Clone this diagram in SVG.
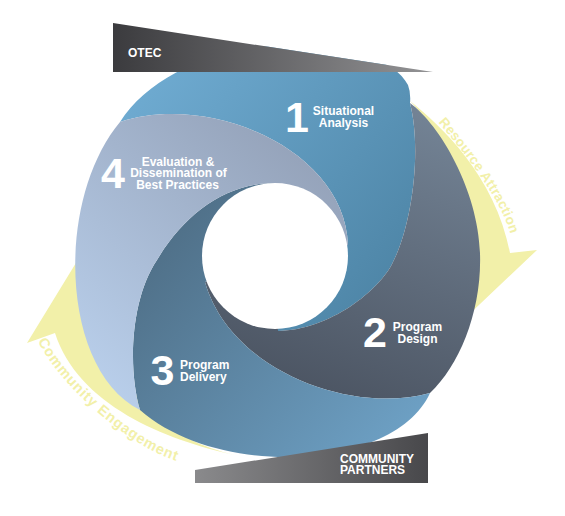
<svg xmlns="http://www.w3.org/2000/svg" width="565" height="516" viewBox="0 0 565 516">
<defs>
<linearGradient id="g1" gradientUnits="userSpaceOnUse" x1="150" y1="80" x2="420" y2="300"><stop offset="0" stop-color="#6eaad0"/><stop offset="1" stop-color="#4b82a3"/></linearGradient>
<linearGradient id="g2" gradientUnits="userSpaceOnUse" x1="440" y1="110" x2="330" y2="400"><stop offset="0" stop-color="#748496"/><stop offset="1" stop-color="#4c5563"/></linearGradient>
<linearGradient id="g3" gradientUnits="userSpaceOnUse" x1="160" y1="230" x2="400" y2="440"><stop offset="0" stop-color="#4f6f87"/><stop offset="1" stop-color="#6da0c4"/></linearGradient>
<linearGradient id="g4" gradientUnits="userSpaceOnUse" x1="300" y1="150" x2="90" y2="380"><stop offset="0" stop-color="#95a3ba"/><stop offset="1" stop-color="#b9cfeb"/></linearGradient>
<linearGradient id="gt" x1="0" y1="0" x2="1" y2="0"><stop offset="0" stop-color="#3b3b3e"/><stop offset="1" stop-color="#939395"/></linearGradient>
<linearGradient id="gb" x1="0" y1="0" x2="1" y2="0"><stop offset="0" stop-color="#8a8a8c"/><stop offset="1" stop-color="#48484b"/></linearGradient>
<clipPath id="clipTop"><polygon points="0,5.7 565,92.2 565,516 0,516"/></clipPath>
<path id="tpR" d="M438,122 Q514.5,210.5 513,253"/>
<path id="tpL" d="M38,341 C61,389 146,463 200,466"/>
</defs>
<style>
.num{font-family:"Liberation Sans",Arial,sans-serif;font-weight:bold;font-size:43px;fill:#fff;text-anchor:middle}
.lbl{font-family:"Liberation Sans",Arial,sans-serif;font-weight:bold;font-size:12px;fill:#fff;text-anchor:middle}
.lbl.st{text-anchor:start}
.ban{font-family:"Liberation Sans",Arial,sans-serif;font-weight:bold;font-size:12px;fill:#fff}
.arr{fill:#f2f0a9}
.atx{font-family:"Liberation Sans",Arial,sans-serif;font-weight:bold;font-size:13.5px;fill:#f2f0a9;letter-spacing:0.3px}
.atx.big{font-size:14.5px;letter-spacing:0.8px}
</style>

<g id="connectors">
  <path id="arrow-resource" class="arr" d="M410,101 C440,125 495,175 510,253 L537,250 L440,342 L455,250 C452,190 440,130 410,101 Z"/>
  <path id="arrow-community" class="arr" d="M235,455 C165,440 78,405 55,333 L27,343 L90,240 L112,330 C120,400 170,440 235,455 Z"/>
</g>

<g id="seg1" clip-path="url(#clipTop)">
  <path fill="url(#g1)" d="M120,122 C150,75 220,45 290,45 C350,45 395,60 408,85 Q411,93 410,103 C422,150 412,225 393,262 C380,290 330,330 278,331 L275,256 L348,245 C345,150 210,92 120,122 Z"/>
</g>
<g id="seg2">
  <path fill="url(#g2)" d="M410,103 C440,125 478,190 480,253 C482,310 460,365 430,393 C350,415 230,370 205,282 L275,256 L278,331 C330,330 380,290 393,262 C412,225 422,150 410,103 Z"/>
</g>
<g id="seg3">
  <path fill="url(#g3)" d="M430,393 C395,470 220,480 140,410 C128,370 130,300 157,260 C184,215 225,183 275,183 L275,256 L205,282 C230,370 350,415 430,393 Z"/>
</g>
<g id="seg4">
  <path fill="url(#g4)" d="M140,410 C60,370 55,200 120,122 C210,92 345,150 348,245 L275,256 L275,183 C225,183 184,215 157,260 C130,300 128,370 140,410 Z"/>
</g>
<circle id="hole" cx="275" cy="256" r="73" fill="#fff"/>

<g id="otec">
  <polygon points="113,23 113,72 433,72" fill="url(#gt)"/>
  <text class="ban" x="128" y="57" font-size="12.5">OTEC</text>
</g>
<g id="partners">
  <polygon points="195,470 428,433 428,483 195,483" fill="url(#gb)"/>
  <text class="ban" x="340" y="462.5">COMMUNITY</text>
  <text class="ban" x="340" y="474">PARTNERS</text>
</g>

<g id="node1">
  <text class="num" x="297" y="132" font-size="44">1</text>
  <text class="lbl" x="343.5" y="115">Situational</text>
  <text class="lbl" x="343.5" y="126.5">Analysis</text>
</g>
<g id="node2">
  <text class="num" x="375" y="347">2</text>
  <text class="lbl" x="417.5" y="331">Program</text>
  <text class="lbl" x="417.5" y="343">Design</text>
</g>
<g id="node3">
  <text class="num" x="162.5" y="385">3</text>
  <text class="lbl st" x="180" y="369">Program</text>
  <text class="lbl st" x="180" y="381">Delivery</text>
</g>
<g id="node4">
  <text class="num" x="113" y="188">4</text>
  <text class="lbl" x="178" y="165.5">Evaluation &amp;</text>
  <text class="lbl" x="178.5" y="177">Dissemination of</text>
  <text class="lbl" x="177.5" y="188.5">Best Practices</text>
</g>

<text class="atx"><textPath href="#tpR">Resource Attraction</textPath></text>
<text class="atx big"><textPath href="#tpL">Community Engagement</textPath></text>
</svg>
